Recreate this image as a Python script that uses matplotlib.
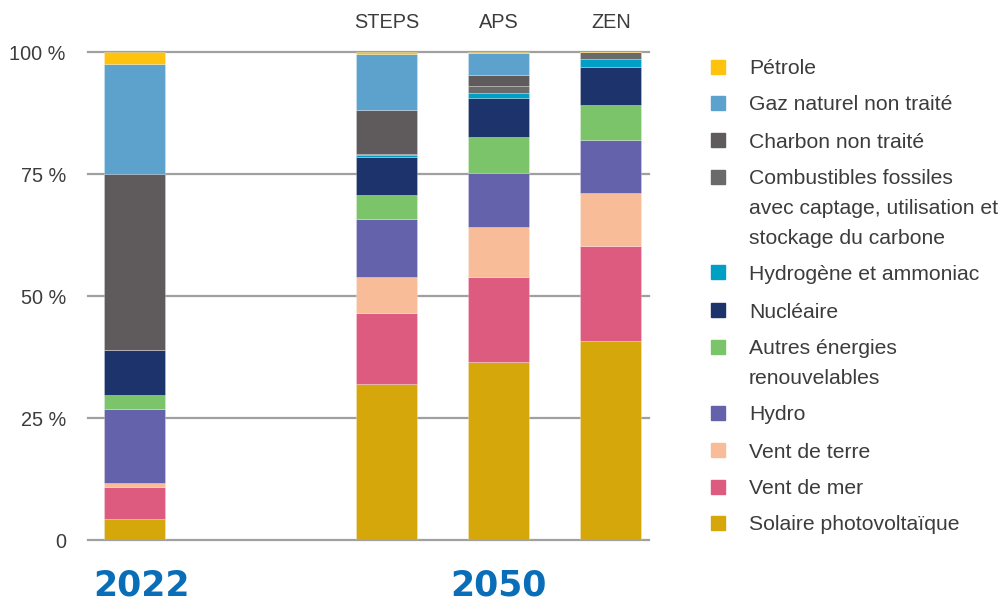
import matplotlib
matplotlib.use("Agg")
import matplotlib.pyplot as plt
from matplotlib.patches import Rectangle
import numpy as np

plt.rcParams['font.family'] = ['Liberation Sans', 'DejaVu Sans']

# Bar positions / labels
scenarios = ["", "STEPS", "APS", "ZEN"]
positions = [0.0, 2.25, 3.25, 4.25]
years = ["2022", "2050"]

# Energy sources, stacked bottom to top
sources = [
    "Solaire photovoltaïque",
    "Vent de mer",
    "Vent de terre",
    "Hydro",
    "Autres énergies\nrenouvelables",
    "Nucléaire",
    "Hydrogène et ammoniac",
    "Combustibles fossiles\navec captage, utilisation et\nstockage du carbone",
    "Charbon non traité",
    "Gaz naturel non traité",
    "Pétrole",
]
colors = [
    "#D6A70B", "#DD5B7E", "#F9BC98", "#6562AC", "#7BC46A", "#1D336B",
    "#00A0C6", "#6A6A6B", "#5F5A5C", "#5DA2CC", "#FFC20E",
]

# Share of generation (%) for 2022, STEPS, APS, ZEN
solar   = [4.4, 31.9, 36.4, 40.8]
offsh   = [6.5, 14.7, 17.4, 19.5]
onsh    = [0.7, 7.2, 10.3, 10.9]
hydro   = [15.3, 11.9, 11.2, 10.8]
others  = [2.8, 4.9, 7.3, 7.2]
nuclear = [9.2, 7.9, 7.9, 7.8]
h2      = [0.0, 0.3, 1.0, 1.6]
ccus    = [0.0, 0.2, 1.5, 1.3]
coal    = [36.1, 9.1, 2.2, 0.0]
gas     = [22.5, 11.5, 4.6, 0.2]
oil     = [2.5, 0.4, 0.2, 0.1]

series = [solar, offsh, onsh, hydro, others, nuclear, h2, ccus, coal, gas, oil]

W, H = 1001, 603
fig = plt.figure(figsize=(W / 100, H / 100), dpi=100)
ax = fig.add_axes([88 / W, (H - 540) / H, (649 - 88) / W, (540 - 52) / H])

text_col = "#3c3c3c"
yt = [0, 25, 50, 75, 100]
ytl = ["0", "25 %", "50 %", "75 %", "100 %"]
for v in yt:
    ax.axhline(v, color="#a0a0a0", lw=1.6, zorder=0, clip_on=False)

bottom = np.zeros(len(positions))
for vals, col in zip(series, colors):
    vals = np.array(vals, dtype=float)
    ax.bar(positions, vals, width=0.545, bottom=bottom, color=col,
           edgecolor=(1, 1, 1, 0.35), linewidth=0.5, zorder=2)
    bottom += vals

ax.set_xlim(-0.415, 4.59)
ax.set_ylim(0, 100)
ax.set_yticks(yt)
ax.set_yticklabels(ytl, fontsize=14.3, color=text_col)
ax.tick_params(axis="y", length=0, pad=16)
ax.set_xticks([])
for s in ax.spines.values():
    s.set_visible(False)

# Scenario names above the bars
for p, s in zip(positions, scenarios):
    if s:
        ax.text(p, 1.06, s, transform=ax.get_xaxis_transform(), ha="center",
                va="center", fontsize=14.3, color=text_col)

# Year labels
year_blue = "#0A6DB8"
for xpos, yr in [(0.063, years[0]), (positions[2], years[1])]:
    ax.text(xpos, -0.093, yr, transform=ax.get_xaxis_transform(),
            ha="center", va="center", fontsize=25, fontweight="bold",
            color=year_blue, family=["DejaVu Sans"])

# Legend (top to bottom: reverse stacking order); y = centre of capitals
entry_y = [67, 103, 140, 177, 272, 310, 347, 413, 450, 487, 523]
line_gap = 29.5
for name, col, y in zip(sources[::-1], colors[::-1], entry_y):
    fig.patches.append(Rectangle((711 / W, (H - y - 7) / H), 14 / W, 14 / H,
                                 transform=fig.transFigure, color=col))
    for k, line in enumerate(name.split("\n")):
        fig.text(749 / W, (H - y - 7.5 - k * line_gap) / H, line, ha="left",
                 va="baseline", fontsize=15.2, color=text_col)

fig.savefig("out.png", dpi=100, facecolor="white")
